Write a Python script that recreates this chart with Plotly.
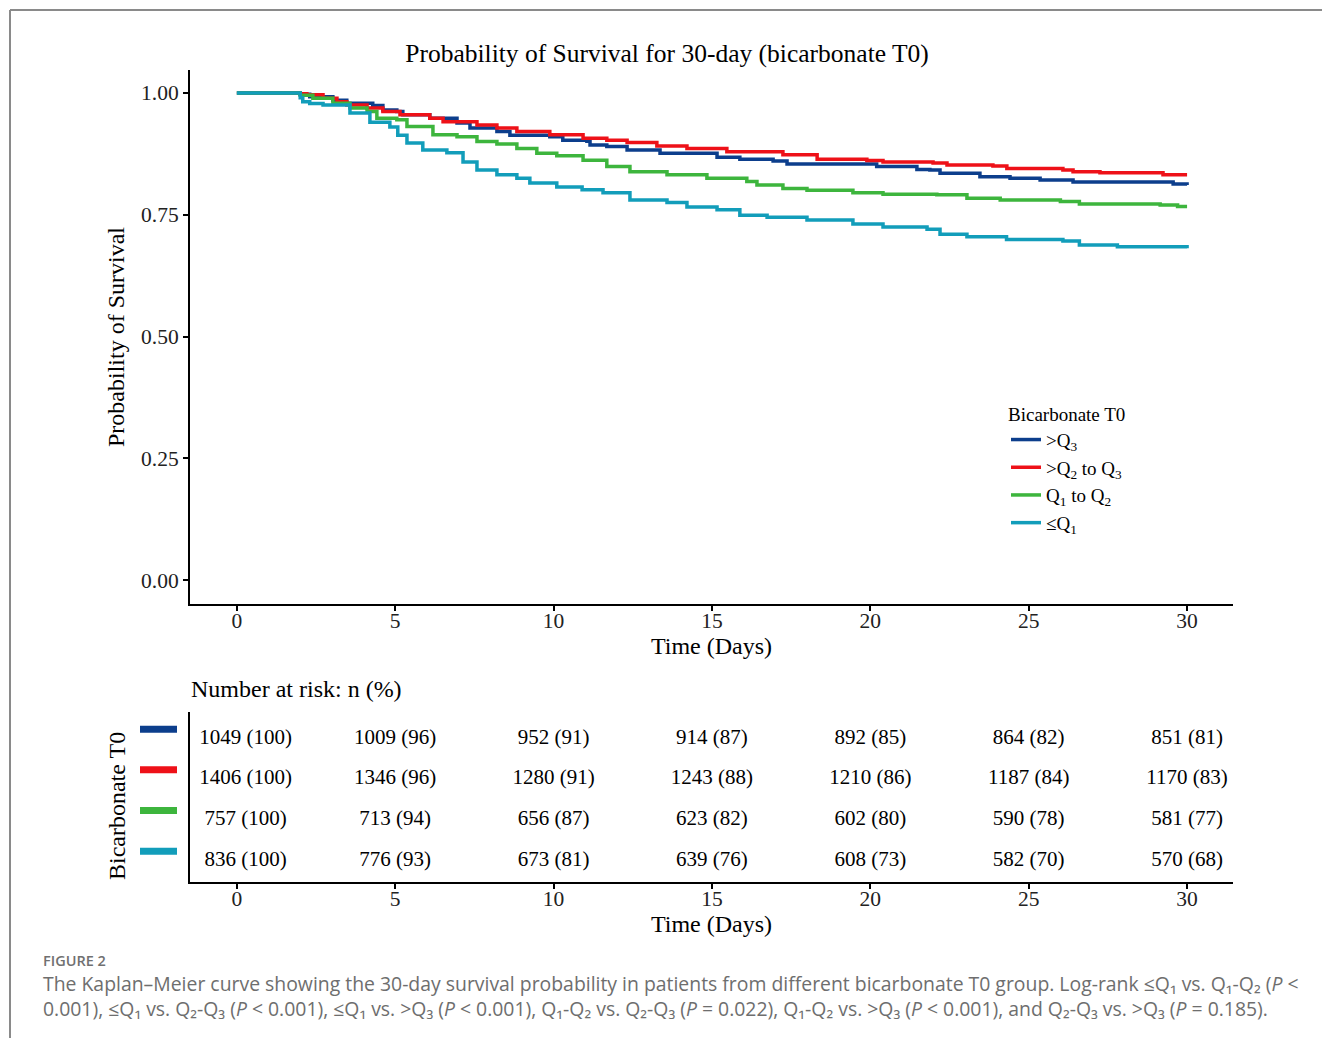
import plotly.graph_objects as go

W, H = 1322, 1038
def fx(px): return px / W
def fy(py): return 1 - py / H

SERIF = "Liberation Serif"
SANS = "Open Sans"

# ---- data ----
groups = ["&gt;Q<sub>3</sub>", "&gt;Q<sub>2</sub> to Q<sub>3</sub>", "Q<sub>1</sub> to Q<sub>2</sub>", "≤Q<sub>1</sub>"]
colors = ["#0C3E8C", "#EE1118", "#3DB53D", "#129DBA"]

t_q4 = [0, 2.0, 2.3, 3.03, 3.47, 4.29, 4.61, 5.05, 5.24, 6.09, 6.95, 7.36, 8.21, 8.62, 9.88, 10.29, 11.05, 11.15, 11.68,
        12.32, 13.36, 15.16, 15.88, 16.93, 17.37, 20.2, 21.47, 21.88, 22.2, 23.46, 24.41, 25.36, 26.4, 29.56, 30]
s_q4 = [1.0, 0.997, 0.992, 0.985, 0.979, 0.974, 0.965, 0.962, 0.955, 0.948, 0.938, 0.928, 0.921, 0.913, 0.910, 0.903, 0.901, 0.893, 0.890,
        0.883, 0.876, 0.868, 0.864, 0.860, 0.854, 0.849, 0.843, 0.842, 0.835, 0.828, 0.825, 0.821, 0.817, 0.813, 0.811]

t_q3 = [0, 2.0, 2.21, 2.72, 3.16, 3.47, 4.11, 4.61, 5.15, 6.09, 6.51, 7.58, 8.21, 8.84, 9.88, 10.93, 11.68, 12.32, 13.26, 14.21,
        15.47, 17.24, 18.32, 19.89, 20.4, 21.98, 22.42, 23.87, 24.31, 26.08, 26.4, 27.25, 29.24, 30]
s_q3 = [1.0, 0.998, 0.996, 0.989, 0.982, 0.975, 0.969, 0.962, 0.955, 0.948, 0.941, 0.934, 0.928, 0.921, 0.914, 0.907, 0.903, 0.898, 0.891, 0.886,
        0.879, 0.873, 0.864, 0.861, 0.858, 0.856, 0.852, 0.850, 0.845, 0.842, 0.838, 0.836, 0.832, 0.832]

t_q2 = [0, 2.0, 2.40, 3.03, 3.57, 4.11, 4.42, 5.05, 5.37, 6.19, 6.95, 7.58, 8.21, 8.84, 9.47, 10.1, 10.93, 11.68, 12.41, 13.58,
        14.84, 16.1, 16.42, 17.24, 18.0, 19.45, 20.4, 22.1, 23.05, 24.1, 26.0, 26.6, 29.15, 29.7, 30]
s_q2 = [1.0, 0.995, 0.989, 0.979, 0.969, 0.962, 0.948, 0.945, 0.931, 0.914, 0.910, 0.900, 0.895, 0.886, 0.876, 0.871, 0.862, 0.849, 0.838, 0.832,
        0.825, 0.818, 0.811, 0.804, 0.800, 0.795, 0.792, 0.791, 0.784, 0.780, 0.777, 0.772, 0.770, 0.767, 0.767]

t_q1 = [0, 2.0, 2.08, 2.3, 2.72, 3.57, 4.2, 4.83, 5.08, 5.37, 5.87, 6.63, 7.14, 7.58, 8.21, 8.84, 9.25, 10.1, 10.9, 11.56,
        12.41, 13.58, 14.21, 15.16, 15.88, 16.74, 18.0, 19.45, 20.4, 21.79, 22.2, 23.05, 24.3, 26.08, 26.6, 27.8, 30]
s_q1 = [1.0, 0.99, 0.982, 0.978, 0.975, 0.959, 0.940, 0.930, 0.913, 0.897, 0.883, 0.877, 0.858, 0.842, 0.832, 0.825, 0.815, 0.807, 0.801, 0.795,
        0.780, 0.775, 0.766, 0.760, 0.749, 0.745, 0.739, 0.731, 0.725, 0.720, 0.710, 0.705, 0.699, 0.696, 0.688, 0.684, 0.681]

times = [t_q4, t_q3, t_q2, t_q1]
survs = [s_q4, s_q3, s_q2, s_q1]

risk_times = [0, 5, 10, 15, 20, 25, 30]
risk_n_q4 = [1049, 1009, 952, 914, 892, 864, 851]
risk_p_q4 = [100, 96, 91, 87, 85, 82, 81]
risk_n_q3 = [1406, 1346, 1280, 1243, 1210, 1187, 1170]
risk_p_q3 = [100, 96, 91, 88, 86, 84, 83]
risk_n_q2 = [757, 713, 656, 623, 602, 590, 581]
risk_p_q2 = [100, 94, 87, 82, 80, 78, 77]
risk_n_q1 = [836, 776, 673, 639, 608, 582, 570]
risk_p_q1 = [100, 93, 81, 76, 73, 70, 68]
risk_n = [risk_n_q4, risk_n_q3, risk_n_q2, risk_n_q1]
risk_p = [risk_p_q4, risk_p_q3, risk_p_q2, risk_p_q1]
risk_rows = [4, 3, 2, 1]

xticks = [0, 5, 10, 15, 20, 25, 30]
yticks = [0, 0.25, 0.5, 0.75, 1.0]

fig = go.Figure()
for g, c, t, s in zip(groups, colors, times, survs):
    fig.add_trace(go.Scatter(x=t, y=s, mode="lines", line=dict(color=c, width=3.5, shape="hv"),
                             name=g, xaxis="x", yaxis="y"))

# first column of the risk table sits a little right of its tick in the reference
col_nudge = [0.28 if t == 0 else 0.0 for t in risk_times]
for n, p, r in zip(risk_n, risk_p, risk_rows):
    fig.add_trace(go.Scatter(x=[t + d for t, d in zip(risk_times, col_nudge)], y=[r] * len(risk_times),
                             mode="text",
                             text=[f"{a} ({b})" for a, b in zip(n, p)],
                             textfont=dict(family=SERIF, size=21, color="black"),
                             textposition="middle center", showlegend=False,
                             xaxis="x2", yaxis="y2", hoverinfo="skip"))

xr = [-1.48, 31.45]
axis_common = dict(showline=True, linecolor="black", linewidth=2, ticks="outside", ticklen=5,
                   tickwidth=1.5, tickcolor="black", showgrid=False, zeroline=False,
                   tickfont=dict(family=SERIF, size=21.5, color="#222"))

shapes = [
    dict(type="line", xref="paper", yref="paper", x0=fx(10), x1=1.0, y0=fy(10), y1=fy(10),
         line=dict(color="#8a8a8a", width=2)),
    dict(type="line", xref="paper", yref="paper", x0=fx(10), x1=fx(10), y0=fy(10), y1=0.0,
         line=dict(color="#8a8a8a", width=2)),
]
for c, r in zip(colors, risk_rows):
    shapes.append(dict(type="line", xref="paper", yref="y2", x0=fx(140), x1=fx(177),
                       y0=r + 0.23, y1=r + 0.23, line=dict(color=c, width=7)))

caption = ("The Kaplan–Meier curve showing the 30-day survival probability in patients from different bicarbonate T0 group. "
           "Log-rank ≤Q₁ vs. Q₁-Q₂ (<i>P</i> &lt;<br>"
           "0.001), ≤Q₁ vs. Q₂-Q₃ (<i>P</i> &lt; 0.001), ≤Q₁ vs. &gt;Q₃ "
           "(<i>P</i> &lt; 0.001), Q₁-Q₂ vs. Q₂-Q₃ (<i>P</i> = 0.022), "
           "Q₁-Q₂ vs. &gt;Q₃ (<i>P</i> &lt; 0.001), and Q₂-Q₃ vs. "
           "&gt;Q₃ (<i>P</i> = 0.185).")

annotations = [
    dict(text="Number at risk: n (%)", xref="paper", yref="paper", x=fx(189), y=fy(689),
         xanchor="left", yanchor="middle", showarrow=False,
         font=dict(family=SERIF, size=24, color="black")),
    dict(text="Bicarbonate T0", xref="paper", yref="paper", x=fx(117), y=fy(806), textangle=-90,
         xanchor="center", yanchor="middle", showarrow=False,
         font=dict(family=SERIF, size=24, color="black")),
    dict(text="FIGURE 2", xref="paper", yref="paper", x=fx(41), y=fy(960),
         xanchor="left", yanchor="middle", showarrow=False,
         font=dict(family=SANS, size=14.5, color="#707070", weight=600)),
    dict(text=caption, xref="paper", yref="paper", x=fx(41), y=fy(996), align="left",
         xanchor="left", yanchor="middle", showarrow=False,
         font=dict(family=SANS, size=19.4, color="#6e6e6e")),
]

fig.update_layout(
    width=W, height=H, autosize=False,
    margin=dict(l=0, r=0, t=0, b=0),
    paper_bgcolor="white", plot_bgcolor="white",
    font=dict(family=SERIF, color="black"),
    title=dict(text="Probability of Survival for 30-day (bicarbonate T0)", x=fx(667), y=fy(53),
               xanchor="center", yanchor="middle", xref="paper", yref="paper",
               font=dict(family=SERIF, size=25.5, color="black")),
    xaxis=dict(domain=[fx(190), fx(1233)], range=xr, tickvals=xticks, anchor="y", ticklabelstandoff=-9,
               title=dict(text="Time (Days)", font=dict(family=SERIF, size=24), standoff=0),
               **axis_common),
    yaxis=dict(domain=[fy(604), fy(70)], range=[-0.049, 1.047], tickvals=yticks, tickformat=".2f",
               anchor="x",
               title=dict(text="Probability of Survival", font=dict(family=SERIF, size=24), standoff=10),
               **axis_common),
    xaxis2=dict(domain=[fx(190), fx(1233)], range=xr, tickvals=xticks, anchor="y2", ticklabelstandoff=-9,
                title=dict(text="Time (Days)", font=dict(family=SERIF, size=24), standoff=0),
                **axis_common),
    yaxis2=dict(domain=[fy(882), fy(712)], range=[0.472, 4.651], anchor="x2",
                showline=True, linecolor="black", linewidth=2, ticks="", showticklabels=False,
                showgrid=False, zeroline=False),
    legend=dict(x=fx(1006), y=fy(396), xanchor="left", yanchor="top",
                title=dict(text="Bicarbonate T0", font=dict(family=SERIF, size=19)),
                font=dict(family=SERIF, size=19, color="black"),
                bgcolor="rgba(0,0,0,0)", tracegroupgap=0, itemwidth=30),
    shapes=shapes,
    annotations=annotations,
)

fig.write_html("out.html", config={"displayModeBar": False},
               post_script="document.body.style.margin='0';document.body.style.overflow='hidden';")
